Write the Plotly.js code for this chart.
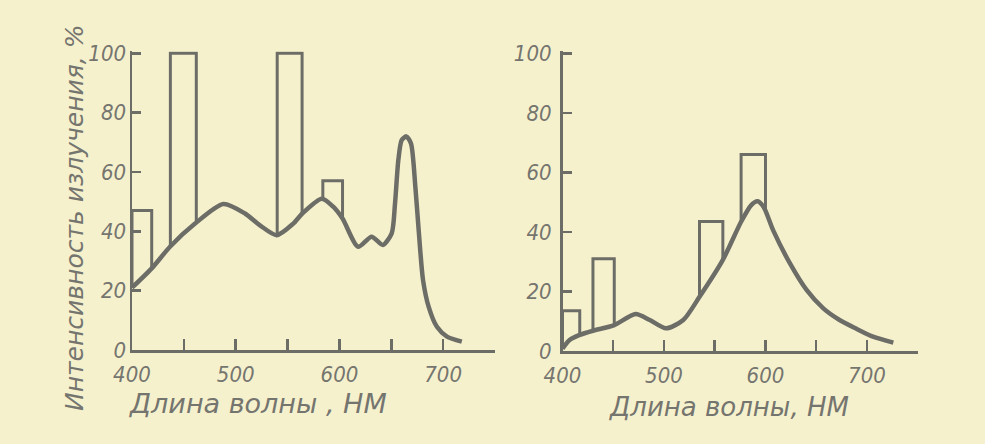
<!DOCTYPE html>
<html>
<head>
<meta charset="utf-8">
<script src="https://cdn.plot.ly/plotly-3.0.1.min.js"></script>
<style>
  html, body { margin: 0; padding: 0; background: #f6f1cd; }
  #chart { width: 985px; height: 444px; }
</style>
</head>
<body>
<div id="chart"></div>
<script>
// ---- Data ----
// Left panel: spectral curve
const leftWavelength = [400, 419, 436.6, 460.8, 488, 509, 523.4, 539.5, 555.5, 564.2, 583, 594, 603, 618, 631, 641.8, 650.4, 653.6, 656.8, 660, 664.5, 669, 673.2, 676.4, 680.6, 686, 694, 703.7, 718];
const leftIntensity  = [21, 27.5, 34.8, 42.6, 49.2, 46, 42, 38.7, 42.6, 46, 51, 48.3, 44.3, 34.8, 38.2, 35.4, 39.3, 49.4, 64, 70.7, 72, 69.6, 55, 40.4, 23.6, 14.6, 7.8, 4.5, 2.8];
// Left panel: band bars
const leftBarStart  = [400, 437, 540, 584];
const leftBarEnd    = [419, 462, 564, 603];
const leftBarHeight = [47, 100, 100, 57];

// Right panel: spectral curve
const rightWavelength = [400, 407, 417, 430, 451, 472, 486, 502, 519, 535, 558, 576, 586, 592, 598, 607.5, 624, 640.5, 657, 673, 690, 706, 726];
const rightIntensity  = [0.8, 3.7, 5.4, 6.8, 8.7, 12.4, 10.4, 7.6, 10.4, 18.2, 30.6, 43.4, 49, 50.3, 48.5, 40.6, 29.5, 20.5, 14.3, 10.4, 7.4, 4.8, 2.8];
// Right panel: band bars
const rightBarStart  = [400, 430, 535, 576];
const rightBarEnd    = [417, 451, 558, 600];
const rightBarHeight = [13.5, 31, 43.5, 66];

// Axis ticks
const xTickVals = [400, 450, 500, 550, 600, 650, 700, 750];
const xTickText = ['400', '', '500', '', '600', '', '700', ''];
const yTickVals = [0, 20, 40, 60, 80, 100];
const yTickText = ['0', '20', '40', '60', '80', '100'];

const xTitleLeft = 'Длина волны , НМ';
const xTitleRight = 'Длина волны, НМ';
const yTitle = 'Интенсивность излучения, %';

// ---- Styles ----
const ink = '#6d6d68';
const textInk = '#75756f';
const bg = '#f6f1cd';

function curveAt(xs, ys, x) {
  if (x <= xs[0]) return ys[0];
  for (let i = 1; i < xs.length; i++) {
    if (x <= xs[i]) {
      const t = (x - xs[i - 1]) / (xs[i] - xs[i - 1]);
      return ys[i - 1] + t * (ys[i] - ys[i - 1]);
    }
  }
  return ys[ys.length - 1];
}

function barOutline(starts, ends, heights, cx, cy) {
  const x = [], y = [];
  for (let i = 0; i < starts.length; i++) {
    x.push(starts[i], starts[i], ends[i], ends[i], null);
    y.push(curveAt(cx, cy, starts[i]), heights[i], heights[i], curveAt(cx, cy, ends[i]), null);
  }
  return {x, y};
}

const lb = barOutline(leftBarStart, leftBarEnd, leftBarHeight, leftWavelength, leftIntensity);
const rb = barOutline(rightBarStart, rightBarEnd, rightBarHeight, rightWavelength, rightIntensity);

const traces = [
  {x: lb.x, y: lb.y, type: 'scatter', mode: 'lines', xaxis: 'x', yaxis: 'y',
   line: {color: ink, width: 3}, connectgaps: false, hoverinfo: 'skip'},
  {x: leftWavelength, y: leftIntensity, type: 'scatter', mode: 'lines', xaxis: 'x', yaxis: 'y',
   line: {color: ink, width: 4.5, shape: 'spline', smoothing: 0.7}, hoverinfo: 'skip'},
  {x: rb.x, y: rb.y, type: 'scatter', mode: 'lines', xaxis: 'x2', yaxis: 'y2',
   line: {color: ink, width: 3}, connectgaps: false, hoverinfo: 'skip'},
  {x: rightWavelength, y: rightIntensity, type: 'scatter', mode: 'lines', xaxis: 'x2', yaxis: 'y2',
   line: {color: ink, width: 4.5, shape: 'spline', smoothing: 0.7}, hoverinfo: 'skip'}
];

const tickFont = {family: 'Liberation Sans Narrow, DejaVu Sans Condensed, sans-serif', size: 22, style: 'italic', color: textInk};
const titleFont = (size) => ({family: 'DejaVu Sans, sans-serif', size: size, style: 'italic', color: textInk});

function xAxis(domain, anchor) {
  return {
    domain: domain, anchor: anchor, range: [400, 750],
    showgrid: false, zeroline: false, showline: true, linecolor: ink, linewidth: 2.5,
    ticks: 'inside', ticklen: 11, tickwidth: 2.5, tickcolor: ink,
    tickmode: 'array', tickvals: xTickVals, ticktext: xTickText,
    tickfont: tickFont, ticklabelstandoff: 3, fixedrange: true
  };
}
function yAxis(domain, anchor, standoff) {
  return {
    domain: domain, anchor: anchor, range: [0, 100.7],
    showgrid: false, zeroline: false, showline: true, linecolor: ink, linewidth: 2.5,
    ticks: 'inside', ticklen: 9, tickwidth: 2.5, tickcolor: ink,
    tickmode: 'array', tickvals: yTickVals, ticktext: yTickText,
    tickfont: tickFont, ticklabelstandoff: standoff, fixedrange: true
  };
}

const layout = {
  width: 985, height: 444,
  margin: {l: 0, r: 0, t: 0, b: 0},
  paper_bgcolor: bg, plot_bgcolor: bg,
  showlegend: false,
  xaxis: xAxis([132 / 985, 495 / 985], 'y'),
  yaxis: yAxis([(444 - 350) / 444, (444 - 51.2) / 444], 'x', -1),
  xaxis2: xAxis([562.5 / 985, 917.7 / 985], 'y2'),
  yaxis2: yAxis([(444 - 351) / 444, (444 - 51.2) / 444], 'x2', 4),
  annotations: [
    {text: xTitleLeft, xref: 'paper', yref: 'paper', x: 258 / 985, y: (444 - 403) / 444,
     xanchor: 'center', yanchor: 'middle', showarrow: false, font: titleFont(27)},
    {text: xTitleRight, xref: 'paper', yref: 'paper', x: 729 / 985, y: (444 - 407) / 444,
     xanchor: 'center', yanchor: 'middle', showarrow: false, font: titleFont(26)},
    {text: yTitle, xref: 'paper', yref: 'paper', x: 74 / 985, y: (444 - 218) / 444,
     xanchor: 'center', yanchor: 'middle', textangle: -90, showarrow: false, font: titleFont(25)}
  ]
};

Plotly.newPlot('chart', traces, layout, {displayModeBar: false, staticPlot: true});
</script>
</body>
</html>
